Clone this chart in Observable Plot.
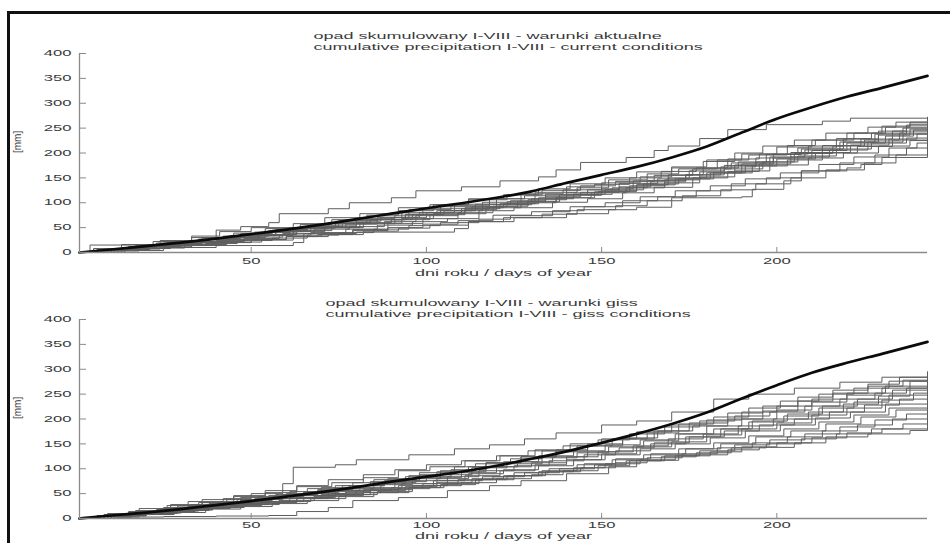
<!DOCTYPE html>
<html><head><meta charset="utf-8">
<script src="https://cdn.jsdelivr.net/npm/d3@7"></script>
<script src="https://cdn.jsdelivr.net/npm/@observablehq/plot@0.6"></script>
<style>
html,body{margin:0;padding:0;background:#fff;overflow:hidden;width:950px;height:543px}
#frame{position:absolute;left:7px;top:11px;width:1000px;height:600px;border-left:3px solid #111;border-top:3px solid #111;}
.panel{position:absolute;left:0;}
</style></head><body>
<div id="frame"></div>
<div id="p1" class="panel" style="top:0"></div>
<div id="p2" class="panel" style="top:282px"></div>
<script>
// ---- data ----
const yTicks = [0, 50, 100, 150, 200, 250, 300, 350, 400];
const xTicks = [50, 100, 150, 200];
const titlesCurrent = ["opad skumulowany I-VIII - warunki aktualne", "cumulative precipitation I-VIII - current conditions"];
const titlesGiss = ["opad skumulowany I-VIII - warunki giss", "cumulative precipitation I-VIII - giss conditions"];
const xLabel = "dni roku / days of year";
const yLabel = "[mm]";

// thick line: mean cumulative precipitation
const meanDays = [1,10,20,30,40,50,60,70,80,90,100,110,120,130,140,150,160,170,180,190,200,210,220,230,243];
const currentMean = [0,6,13,20,28,37,46,56,67,78,89,99,110,123,140,156,172,191,213,241,269,292,313,331,355];
const gissMean = [0,6,12,19,27,35,44,53,63,74,84,94,106,120,135,152,170,190,213,241,268,293,313,331,355];

// generated runs, current conditions: [day, mm, day, mm, ...]
const currentRuns = [
 [1,0,4,15,22,22,33,30,40,45,47,52,55,60,58,78,72,88,78,100,90,110,97,124,110,132,121,144,132,152,137,166,144,181,157,191,165,205,169,214,178,229,186,247,197,257,213,264,221,270,243,272],
 [1,0,10,4,25,10,40,14,62,20,65,38,80,41,108,48,112,62,125,70,140,78,152,86,160,91,170,110,190,112,193,127,202,144,207,164,220,170,224,177,230,191,243,204],
 [1,0,8,5,17,12,26,16,35,25,44,30,51,41,63,48,72,60,84,66,93,80,104,92,116,101,127,118,139,126,150,140,161,152,170,170,179,183,188,200,196,214,205,226,214,240,226,252,234,262,243,270],
 [1,0,6,6,14,10,23,19,31,22,42,33,53,40,61,50,70,55,80,68,91,75,99,88,108,97,120,108,131,121,143,130,152,146,163,158,172,168,183,186,192,196,203,215,211,226,222,240,231,252,238,258,243,266],
 [1,0,11,8,19,14,28,23,38,28,47,38,56,45,66,53,75,64,86,70,95,86,107,94,118,108,128,114,140,132,148,137,158,150,167,163,177,170,186,188,195,198,206,210,217,229,227,240,236,250,243,262],
 [1,0,9,7,18,13,27,18,36,27,46,33,55,44,64,49,74,58,83,66,94,77,103,84,114,97,124,104,134,117,146,126,155,139,166,148,175,164,185,175,194,190,204,201,213,215,224,228,233,244,243,258],
 [1,0,5,8,13,16,24,24,33,33,41,42,50,50,62,58,71,70,81,78,92,90,101,96,112,106,123,116,133,125,144,134,154,143,165,155,176,168,187,180,197,197,207,208,219,222,229,236,238,248,243,255],
 [1,0,12,6,21,12,30,20,40,24,49,31,59,38,68,47,78,52,88,62,97,74,109,80,119,93,129,102,138,116,149,123,160,136,169,150,180,160,190,178,199,190,210,205,220,220,231,234,239,246,243,252],
 [1,0,7,5,16,9,25,17,34,21,45,30,54,36,63,44,73,50,82,59,93,68,102,78,111,90,122,98,132,110,142,117,153,130,163,145,174,156,184,172,194,182,205,199,216,214,225,226,235,240,243,250],
 [1,0,10,5,20,11,29,15,39,22,48,28,58,35,67,40,77,47,86,55,96,62,106,68,115,84,125,90,136,101,146,108,156,120,165,131,176,150,186,163,195,178,204,192,215,206,226,222,236,238,243,247],
 [1,0,8,7,17,14,26,20,37,30,47,36,57,46,66,52,76,63,87,71,98,80,108,88,118,96,129,106,140,115,150,124,160,136,171,148,181,160,191,174,200,188,211,201,221,216,232,228,240,238,243,244],
 [1,0,13,9,22,14,32,22,43,30,52,36,61,45,71,52,80,60,90,70,100,80,110,88,121,98,131,108,142,117,151,126,162,138,172,148,182,160,193,174,203,186,213,200,223,213,233,226,243,240],
 [1,0,6,4,15,12,25,19,35,27,44,34,54,42,65,50,74,58,84,66,94,76,104,84,113,92,123,102,134,112,144,121,155,132,164,142,174,156,185,168,196,182,206,194,217,208,227,220,237,230,243,236],
 [1,0,9,6,19,13,28,20,38,27,48,34,57,42,67,50,77,57,86,66,96,76,105,84,116,92,126,102,137,110,147,120,157,130,168,140,178,152,188,164,198,176,209,190,219,200,229,214,238,225,243,232],
 [1,0,11,5,21,12,30,17,40,20,50,26,60,32,69,36,79,44,89,50,99,57,109,64,119,75,130,82,141,92,151,100,161,112,171,124,181,134,191,148,201,160,212,177,222,192,232,210,240,220,243,228],
 [1,0,7,3,18,8,27,14,37,18,46,24,56,29,66,35,75,40,85,47,95,54,104,60,115,67,124,74,136,84,145,92,156,104,166,112,177,124,187,138,197,150,207,164,218,180,228,196,237,210,243,222],
 [1,0,14,7,24,11,33,16,43,21,53,25,62,32,72,36,82,43,92,49,101,55,112,62,122,70,133,77,143,86,154,94,163,104,173,114,184,126,194,138,204,150,214,166,225,180,234,196,243,214],
 [1,0,9,8,18,15,27,22,36,30,45,39,54,48,64,56,73,66,83,75,92,84,102,96,112,108,122,116,132,128,141,138,151,150,160,162,170,172,180,186,190,198,200,212,210,226,220,240,230,254,238,262,243,268],
 [1,0,10,4,20,9,31,14,41,20,50,26,60,33,70,39,79,46,89,58,99,68,109,78,117,90,127,100,137,110,148,122,158,134,168,146,178,162,188,176,198,192,208,206,218,222,228,238,237,252,243,260],
 [1,0,5,3,14,9,23,13,33,20,43,26,52,34,62,42,71,50,81,58,91,66,101,76,111,86,120,96,130,108,140,120,150,128,159,144,169,156,179,170,189,182,199,198,209,214,219,228,229,244,237,256,243,264]
];

// generated runs, giss conditions: [day, mm, day, mm, ...]
const gissRuns = [
 [1,0,6,6,15,14,25,22,32,34,42,40,50,50,59,70,62,103,74,108,80,118,95,128,108,140,118,148,128,160,137,172,150,188,160,196,170,214,182,240,192,250,205,262,218,274,230,284,243,292],
 [1,0,12,3,25,4,40,5,55,6,63,14,72,22,79,36,92,42,106,56,118,66,127,76,140,90,152,104,160,117,172,128,186,138,195,143,205,152,214,164,226,170,238,177,243,180],
 [1,0,7,5,16,13,24,20,33,28,43,38,52,44,61,54,70,62,79,72,89,80,98,92,108,104,117,112,127,124,137,134,146,146,156,160,165,176,175,192,186,212,196,226,206,244,216,258,226,270,235,284,243,295],
 [1,0,10,9,19,14,29,25,38,30,47,42,57,48,66,60,76,66,85,78,95,86,104,96,114,110,124,120,133,136,143,146,153,160,163,172,172,190,182,204,192,222,201,236,212,250,222,262,232,276,243,290],
 [1,0,5,4,14,10,23,18,32,24,41,34,51,40,60,50,69,58,79,66,88,76,98,88,107,98,117,112,127,124,137,138,146,150,156,162,166,176,176,186,186,200,196,216,206,236,216,252,226,266,236,278,243,288],
 [1,0,9,6,18,12,27,20,36,32,46,38,55,46,65,54,74,66,84,74,94,84,103,94,112,104,122,114,132,126,142,136,151,148,161,158,171,170,180,186,190,200,200,218,210,234,220,248,230,262,238,276,243,285],
 [1,0,8,8,17,16,26,26,35,32,45,44,54,52,63,64,73,72,82,82,92,96,101,104,111,116,121,126,131,138,141,150,150,160,160,174,170,188,180,198,190,214,200,226,210,240,220,252,231,266,243,280],
 [1,0,11,6,20,13,30,18,39,27,49,34,58,40,68,50,77,57,87,68,96,76,106,84,115,96,125,106,135,116,145,128,154,136,164,150,174,164,184,180,193,196,203,210,213,226,223,240,233,258,243,275],
 [1,0,6,5,15,12,24,17,34,26,43,30,53,40,62,46,72,56,81,62,91,74,100,82,110,92,120,104,130,112,140,124,149,134,159,146,169,160,179,170,189,186,199,200,209,214,219,230,229,246,238,262,243,270],
 [1,0,10,7,19,12,28,22,37,28,47,36,56,44,65,52,75,60,85,70,94,80,104,88,113,102,123,110,133,122,143,132,152,144,162,156,172,170,182,180,192,194,202,206,212,222,222,234,232,248,243,265],
 [1,0,7,4,16,10,26,15,35,22,44,28,54,34,63,42,73,50,82,58,92,66,102,76,111,86,121,96,131,108,140,118,150,130,160,144,170,154,180,168,190,180,200,192,210,208,220,222,230,238,239,252,243,260],
 [1,0,12,8,21,14,31,22,40,30,50,38,59,48,69,56,78,66,88,72,97,84,107,94,117,104,126,114,136,124,146,134,155,142,165,152,175,164,185,176,195,188,205,200,215,214,225,228,235,240,243,252],
 [1,0,8,6,17,12,27,20,36,26,46,32,55,40,64,46,74,54,84,60,93,70,103,80,112,90,122,98,132,106,142,118,151,128,161,140,171,150,181,162,191,176,201,188,211,202,221,214,231,230,243,245],
 [1,0,9,3,18,8,28,12,37,19,47,24,56,30,66,36,75,44,85,52,95,62,104,68,114,78,123,86,133,96,143,108,153,118,162,128,172,140,182,152,192,166,202,180,212,194,222,208,232,222,243,238],
 [1,0,11,6,20,11,30,17,39,24,48,30,58,36,68,44,77,52,87,58,96,66,106,76,116,84,125,92,135,100,145,110,154,120,164,130,174,140,184,150,194,164,204,176,214,190,224,204,234,218,243,230],
 [1,0,6,3,16,8,25,14,34,20,44,26,53,32,63,40,72,46,82,52,92,60,101,66,110,72,120,80,130,88,139,96,149,106,158,116,168,126,178,136,188,148,198,158,208,170,218,184,228,198,237,210,243,220],
 [1,0,10,5,20,10,29,16,38,22,48,28,58,34,67,40,77,48,86,54,96,62,105,70,115,78,125,86,134,94,144,102,154,112,163,122,173,130,183,142,193,152,203,164,213,176,223,188,233,200,243,212],
 [1,0,13,8,23,14,32,20,42,28,51,34,61,42,70,48,80,56,90,62,99,70,109,78,119,84,128,92,138,100,148,108,157,116,167,124,177,132,187,142,197,150,207,160,217,170,227,180,236,190,243,200],
 [1,0,8,5,17,10,27,16,36,22,46,28,55,34,65,42,74,48,84,56,94,64,103,72,113,80,122,86,132,94,142,102,151,110,161,118,171,126,181,134,190,144,200,152,210,162,220,172,230,180,243,192],
 [1,0,9,10,18,20,27,28,36,38,45,46,54,56,63,66,72,78,82,88,91,98,100,108,110,116,120,126,129,136,139,146,149,158,158,170,168,184,178,196,188,206,198,214,208,226,218,240,228,252,237,262,243,268]
];

// ---- drawing ----
const FONT = "'Liberation Sans', Arial, Helvetica, sans-serif";
const AXIS = "#8a8a8a", TXT = "#3a3a3a";

function toRows(runs) {
  const rows = [];
  runs.forEach((r, i) => { for (let k = 0; k < r.length; k += 2) rows.push({run: i, day: r[k], mm: r[k + 1]}); });
  return rows;
}

// widen glyphs horizontally (the reference text is horizontally stretched)
function stretch(svg, s) {
  svg.querySelectorAll("text").forEach(t => {
    const tr = t.getAttribute("transform") || "";
    if (tr.includes("rotate")) return;
    const len = t.getComputedTextLength();
    if (len > 0) {
      t.setAttribute("textLength", (len * s).toFixed(1));
      t.setAttribute("lengthAdjust", "spacingAndGlyphs");
    }
  });
}

function panel(o) {
  const rows = toRows(o.runs);
  const meanRows = meanDays.map((d, i) => ({day: d, mm: o.mean[i]}));
  return Plot.plot({
    width: 950, height: o.height,
    marginLeft: 79, marginRight: 23, marginTop: o.marginTop, marginBottom: o.marginBottom,
    style: {fontFamily: FONT, background: "transparent", color: TXT, overflow: "visible"},
    x: {domain: [1, 243]},
    y: {domain: [0, 400]},
    marks: [
      Plot.line(rows, {x: "day", y: "mm", z: "run", curve: "step-after", stroke: "#5e5e5e", strokeWidth: 1}),
      Plot.line(meanRows, {x: "day", y: "mm", curve: "monotone-x", stroke: "#0b0b0b", strokeWidth: 2.7}),
      Plot.ruleX([1], {stroke: AXIS, strokeWidth: 1.3}),
      Plot.ruleY([0], {stroke: AXIS, strokeWidth: 1.3}),
      Plot.axisY(yTicks, {tickSize: -7, tickPadding: 15, stroke: AXIS, fill: TXT, fontSize: 8.3, label: null}),
      Plot.axisX(xTicks, {tickSize: -5, tickPadding: o.tickPad, stroke: AXIS, fill: TXT, fontSize: 8.3, label: null}),
      Plot.text([o.titles[0]], {text: d => d, frameAnchor: "top-left", dx: o.titleDx, dy: o.titleDy1, textAnchor: "start", fontSize: 9, fill: TXT}),
      Plot.text([o.titles[1]], {text: d => d, frameAnchor: "top-left", dx: o.titleDx, dy: o.titleDy2, textAnchor: "start", fontSize: 9, fill: TXT}),
      Plot.text([xLabel], {text: d => d, frameAnchor: "bottom", dy: o.xLabelDy, fontSize: 9, fill: TXT}),
      Plot.text([yLabel], {text: d => d, frameAnchor: "left", dx: -62, rotate: -90, fontSize: 10, fill: TXT})
    ]
  });
}

const s1 = panel({
  runs: currentRuns, mean: currentMean, titles: titlesCurrent,
  height: 282, marginTop: 53, marginBottom: 30, tickPad: 11,
  titleDx: 234, titleDy1: -21, titleDy2: -10, xLabelDy: 23
});
const s2 = panel({
  runs: gissRuns, mean: gissMean, titles: titlesGiss,
  height: 261, marginTop: 37, marginBottom: 25, tickPad: 9,
  titleDx: 246, titleDy1: -20, titleDy2: -9, xLabelDy: 20
});
document.getElementById("p1").appendChild(s1);
document.getElementById("p2").appendChild(s2);
stretch(s1, 2);
stretch(s2, 2);
</script>
</body></html>
